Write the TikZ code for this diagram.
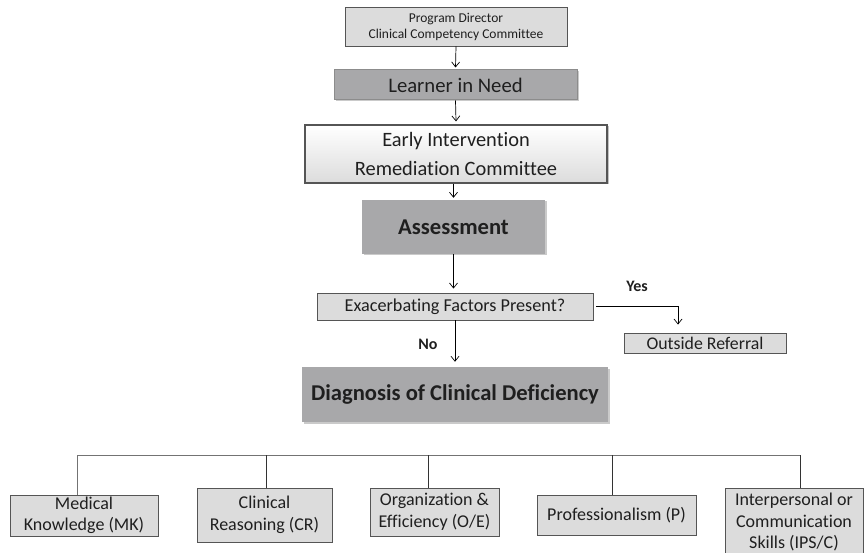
\documentclass[tikz,border=0pt]{standalone}
\usepackage{fontspec}
\setmainfont[Ligatures={NoCommon}]{Carlito}
\usetikzlibrary{arrows.meta,shadows}
\definecolor{lightbox}{HTML}{DCDCDC}
\definecolor{darkbox}{HTML}{A8A8AA}
\definecolor{edge}{HTML}{555555}
\tikzset{
  lbox/.style={draw=edge, line width=0.9pt, fill=lightbox, align=center, inner sep=0pt, text=black!88},
  dbox/.style={draw=none, fill=darkbox, align=center, inner sep=0pt, text=black!88,
     drop shadow={shadow xshift=1.5pt, shadow yshift=-1.5pt, fill=black!35, opacity=0.6}},
  arr/.style={-{Straight Barb[length=5pt,width=8pt]}, line width=0.7pt, black},
  conn/.style={line width=0.8pt, black!80},
  lbl/.style={font=\fontsize{16}{18}\selectfont\bfseries, text=black!88}
}
\begin{document}
\begin{tikzpicture}[x=1pt,y=-1pt]
\useasboundingbox (0,0) rectangle (864,553);
% nodes
\node[lbox, minimum width=222pt, minimum height=39pt, font=\fontsize{13.5}{16}\selectfont] (pd) at (456,26.5) {Program Director\\Clinical Competency Committee};
\node[dbox, draw=black!45, line width=1pt, minimum width=243pt, minimum height=30pt, font=\fontsize{20.7}{24}\selectfont] (lin) at (455.5,85) {Learner in Need};
\node[lbox, line width=1.2pt, minimum width=302pt, minimum height=58pt, font=\fontsize{20.4}{29}\selectfont, top color=white, bottom color=lightbox,
  drop shadow={shadow xshift=1.5pt, shadow yshift=-1.5pt, fill=black!40, opacity=0.6}] (eir) at (456,154) {Early Intervention\\Remediation Committee};
\node[dbox, minimum width=183pt, minimum height=54pt, font=\fontsize{22.6}{26}\selectfont\bfseries] (ass) at (453.5,227) {Assessment};
\node[lbox, minimum width=276pt, minimum height=27pt, font=\fontsize{18.2}{21}\selectfont] (exf) at (455,306.5) {Exacerbating Factors Present?};
\node[lbox, minimum width=162pt, minimum height=20pt, font=\fontsize{17.8}{21}\selectfont] (out) at (705,343) {Outside Referral};
\node[dbox, minimum width=306pt, minimum height=55pt, font=\fontsize{22.6}{26}\selectfont\bfseries] (dia) at (455,394.5) {Diagnosis of Clinical Deficiency};
% bottom boxes
\node[lbox, minimum width=148pt, minimum height=41pt, font=\fontsize{18}{21.5}\selectfont] (mk) at (84,515.5) {Medical\\Knowledge (MK)};
\node[lbox, minimum width=135pt, minimum height=54pt, font=\fontsize{18}{21.5}\selectfont] (cr) at (264.5,515) {Clinical\\Reasoning (CR)};
\node[lbox, minimum width=129pt, minimum height=48pt, font=\fontsize{18}{21.5}\selectfont] (oe) at (434.5,512) {Organization \&\\Efficiency (O/E)};
\node[lbox, minimum width=159pt, minimum height=40pt, font=\fontsize{18}{21.5}\selectfont] (pr) at (616.5,515) {Professionalism (P)};
\node[lbox, minimum width=138pt, minimum height=67pt, font=\fontsize{18}{21.5}\selectfont] (ips) at (794,522) {Interpersonal or\\Communication\\Skills (IPS/C)};
% labels
\node[lbl] (yes) at (637,286) {Yes};
\node[lbl] (no) at (428,344) {No};
% arrows
\draw[arr] (pd.south) -- ([yshift=2pt]lin.north);
\draw[arr] (lin.south) -- ([yshift=3pt]eir.north);
\draw[arr] (eir.south -| ass.north) -- ([yshift=2pt]ass.north);
\draw[arr] (ass.south) -- ([yshift=4pt]exf.north -| ass.north);
\draw[arr] (exf.south) -- ([yshift=5pt]dia.north);
\coordinate (yc) at (678,306.5);
\draw[arr] ([xshift=3pt]exf.east) -- (yc) -- ([yshift=8pt]yc |- out.north);
% tree
\coordinate (bl) at (77,455);
\coordinate (br) at (800,455);
\draw[conn, black!55] (bl) -- (br);
\coordinate (tcr) at (266,455);
\coordinate (toe) at (428,455);
\coordinate (tpr) at (612,455);
\draw[conn, black!55] (bl) -- (bl |- mk.north);
\draw[conn] (tcr) -- (tcr |- cr.north);
\draw[conn] (toe) -- (toe |- oe.north);
\draw[conn] (tpr) -- (tpr |- pr.north);
\draw[conn] (br) -- (br |- ips.north);
\end{tikzpicture}
\end{document}
